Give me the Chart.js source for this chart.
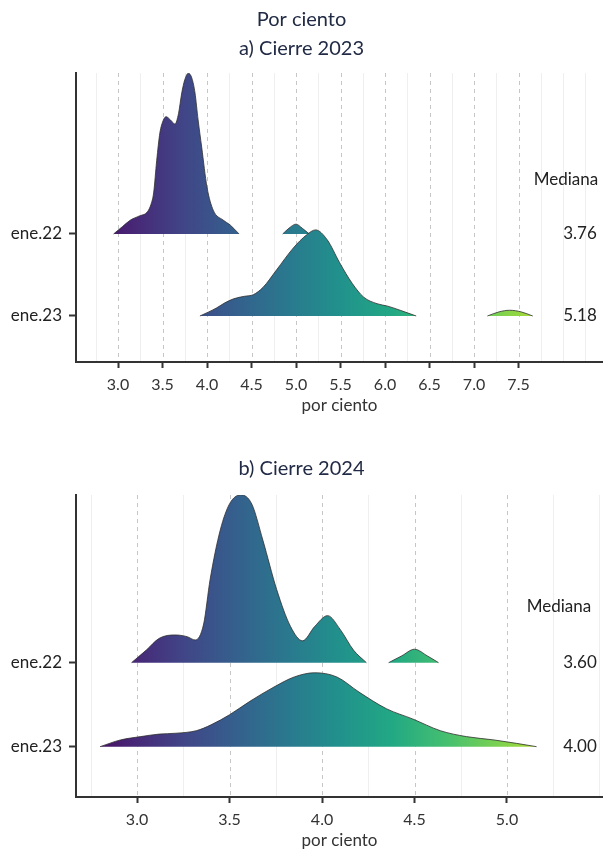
<!DOCTYPE html>
<html>
<head>
<meta charset="utf-8">
<script src="https://cdn.jsdelivr.net/npm/chart.js@4.4.0/dist/chart.umd.min.js"></script>
<style>
  html, body { margin: 0; padding: 0; background: #fff; }
  body { width: 603px; height: 850px; overflow: hidden; position: relative; }
  .panel { position: absolute; left: 0; width: 603px; }
  #top { top: 0; }
  #bottom { top: 420px; }
</style>
</head>
<body>
<div class="panel" id="top"><canvas id="chart2023" width="603" height="416"></canvas></div>
<div class="panel" id="bottom"><canvas id="chart2024" width="603" height="431"></canvas></div>
<script>
// categories (top to bottom)
const categories = ['ene.22', 'ene.23'];

// x tick labels
const ticks2023 = [3.0, 3.5, 4.0, 4.5, 5.0, 5.5, 6.0, 6.5, 7.0, 7.5];
const ticks2024 = [3.0, 3.5, 4.0, 4.5, 5.0];

// medians shown at the right
const mediana2023 = [3.76, 5.18];
const mediana2024 = [3.60, 4.00];

// a) Cierre 2023 - ridge heights (in category units)
const c23Ene22X = [2.95, 3.05, 3.14, 3.24, 3.33, 3.37, 3.40, 3.435, 3.47, 3.51, 3.54, 3.59, 3.64, 3.68, 3.716, 3.75, 3.79, 3.83, 3.865, 3.90, 3.94, 4.00, 4.07, 4.18, 4.26, 4.36];
const c23Ene22H = [0, 0.09, 0.17, 0.22, 0.27, 0.36, 0.50, 0.90, 1.23, 1.39, 1.43, 1.39, 1.34, 1.47, 1.72, 1.88, 1.96, 1.90, 1.72, 1.39, 1.06, 0.57, 0.29, 0.17, 0.11, 0];
const c23Ene22bX = [4.85, 4.92, 5.00, 5.07, 5.15];
const c23Ene22bH = [0, 0.07, 0.12, 0.07, 0];
const c23Ene23X = [3.92, 4.02, 4.11, 4.20, 4.30, 4.42, 4.52, 4.63, 4.78, 4.97, 5.12, 5.22, 5.35, 5.49, 5.63, 5.76, 5.91, 6.03, 6.17, 6.35];
const c23Ene23H = [0, 0.05, 0.10, 0.16, 0.21, 0.24, 0.26, 0.35, 0.56, 0.83, 0.99, 1.05, 0.93, 0.65, 0.40, 0.23, 0.15, 0.12, 0.07, 0];
const c23Ene23bX = [7.15, 7.28, 7.40, 7.53, 7.66];
const c23Ene23bH = [0, 0.05, 0.07, 0.05, 0];

// b) Cierre 2024
const c24Ene22X = [2.97, 3.05, 3.12, 3.205, 3.27, 3.315, 3.36, 3.395, 3.45, 3.50, 3.56, 3.62, 3.68, 3.755, 3.83, 3.895, 3.96, 4.03, 4.10, 4.17, 4.24];
const c24Ene22H = [0, 0.15, 0.29, 0.33, 0.31, 0.27, 0.46, 0.99, 1.58, 1.89, 2.00, 1.89, 1.46, 0.87, 0.43, 0.26, 0.43, 0.56, 0.39, 0.15, 0];
const c24Ene22bX = [4.36, 4.43, 4.50, 4.57, 4.63];
const c24Ene22bH = [0, 0.08, 0.16, 0.08, 0];
const c24Ene23X = [2.80, 2.91, 3.02, 3.12, 3.21, 3.32, 3.40, 3.50, 3.61, 3.74, 3.85, 3.96, 4.08, 4.20, 4.35, 4.49, 4.64, 4.78, 4.93, 5.05, 5.16];
const c24Ene23H = [0, 0.08, 0.12, 0.15, 0.16, 0.19, 0.26, 0.38, 0.54, 0.71, 0.83, 0.88, 0.83, 0.65, 0.45, 0.33, 0.19, 0.12, 0.08, 0.04, 0];

const viridis = ['#440154', '#482475', '#414487', '#355f8d', '#2a788e', '#21918c', '#22a884', '#44bf70', '#7ad151', '#bddf26', '#fde725'];
const navy = '#222b45';

Chart.defaults.font.family = 'Lato, "Open Sans", sans-serif';

// ene.22 -> 2, ene.23 -> 1
function level(cat) {
  return categories.length - categories.indexOf(cat);
}

// gradient over the whole x axis
function viridisFill(ctx) {
  const chart = ctx.chart;
  const area = chart.chartArea;
  if (!area) return viridis[5];
  const g = chart.ctx.createLinearGradient(area.left, 0, area.right, 0);
  viridis.forEach((c, i) => g.addColorStop(i / (viridis.length - 1), c));
  return g;
}

function ridge(cat, xs, hs) {
  const base = level(cat);
  return {
    label: cat,
    data: xs.map((x, i) => ({ x: x, y: base + hs[i] })),
    fill: { value: base },
    backgroundColor: viridisFill,
    borderColor: '#2e2e2e',
    borderWidth: 0.8,
    pointRadius: 0,
    cubicInterpolationMode: 'monotone',
    order: base // lower ridge drawn on top
  };
}

function isMajor(majors, v) {
  return majors.some(m => Math.abs(m - v) < 1e-6);
}

// dashed majors + light minors every 0.25
const gridPlugin = {
  id: 'ridgeGrid',
  beforeDatasetsDraw(chart, args, opts) {
    const { ctx, chartArea: a, scales: { x } } = chart;
    ctx.save();
    ctx.lineWidth = 1;
    for (let v = Math.ceil(x.min * 4) / 4; v <= x.max; v += 0.25) {
      const px = Math.round(x.getPixelForValue(v)) + 0.5;
      const major = isMajor(opts.majors, v);
      ctx.strokeStyle = major ? '#c6c6c6' : '#efefef';
      ctx.setLineDash(major ? [4, 4] : []);
      ctx.beginPath();
      ctx.moveTo(px, a.top);
      ctx.lineTo(px, a.bottom - 1);
      ctx.stroke();
    }
    ctx.restore();
  }
};

const medianPlugin = {
  id: 'medianas',
  afterDatasetsDraw(chart, args, opts) {
    const { ctx, chartArea: a, scales: { y } } = chart;
    ctx.save();
    ctx.font = '17px Lato';
    ctx.fillStyle = '#222';
    ctx.textAlign = 'center';
    ctx.textBaseline = 'middle';
    ctx.fillText('Mediana', a.right - opts.headOffset, y.getPixelForValue(2.67));
    opts.values.forEach((m, i) => {
      ctx.fillText(m.toFixed(2), a.right - 23, y.getPixelForValue(level(categories[i])));
    });
    ctx.restore();
  }
};

function makeChart(id, cfg) {
  return new Chart(document.getElementById(id), {
    type: 'line',
    data: { datasets: cfg.datasets },
    plugins: [gridPlugin, medianPlugin],
    options: {
      responsive: false,
      animation: false,
      events: [],
      layout: { padding: 0 },
      scales: {
        x: {
          type: 'linear',
          min: cfg.xMin,
          max: cfg.xMax,
          afterBuildTicks: s => { s.ticks = cfg.majors.map(v => ({ value: v })); },
          afterFit: s => { s.height = 54; },
          ticks: {
            autoSkip: false,
            maxRotation: 0,
            padding: 7,
            color: '#333',
            font: { size: 16 },
            callback: v => Number(v).toFixed(1)
          },
          grid: {
            drawOnChartArea: false,
            tickLength: 6,
            tickWidth: 2,
            tickColor: c => (c.tick && isMajor(cfg.majors, c.tick.value)) ? '#333' : 'rgba(0,0,0,0)'
          },
          border: { color: '#333', width: 2 },
          title: { display: true, text: 'por ciento', color: '#333', font: { size: 17 }, padding: 0 }
        },
        y: {
          type: 'linear',
          min: cfg.yMin,
          max: cfg.yMax,
          afterBuildTicks: s => { s.ticks = categories.map(c => ({ value: level(c) })); },
          afterFit: s => { s.width = 76; },
          ticks: {
            autoSkip: false,
            padding: 7,
            color: '#222',
            font: { size: 17 },
            callback: v => categories[categories.length - v]
          },
          grid: { drawOnChartArea: false, tickLength: 7, tickColor: '#333', tickWidth: 2 },
          border: { color: '#333', width: 2 }
        }
      },
      plugins: {
        legend: { display: false },
        tooltip: { enabled: false },
        title: cfg.title,
        subtitle: cfg.subtitle,
        ridgeGrid: { majors: cfg.majors },
        medianas: { values: cfg.medianas, headOffset: cfg.headOffset }
      }
    }
  });
}

makeChart('chart2023', {
  datasets: [
    ridge('ene.22', c23Ene22X, c23Ene22H),
    ridge('ene.22', c23Ene22bX, c23Ene22bH),
    ridge('ene.23', c23Ene23X, c23Ene23H),
    ridge('ene.23', c23Ene23bX, c23Ene23bH)
  ],
  xMin: 2.528, xMax: 8.449,
  yMin: 0.439, yMax: 3.963,
  majors: ticks2023,
  medianas: mediana2023,
  headOffset: 37,
  title: { display: true, text: 'Por ciento', color: navy, font: { size: 20, weight: 'normal' }, padding: { top: 7.5, bottom: 5 } },
  subtitle: { display: true, text: 'a) Cierre 2023', color: navy, font: { size: 20, weight: 'normal' }, padding: { top: 0, bottom: 12.5 } }
});

makeChart('chart2024', {
  datasets: [
    ridge('ene.22', c24Ene22X, c24Ene22H),
    ridge('ene.22', c24Ene22bX, c24Ene22bH),
    ridge('ene.23', c24Ene23X, c24Ene23H)
  ],
  xMin: 2.670, xMax: 5.519,
  yMin: 0.401, yMax: 3.996,
  majors: ticks2024,
  medianas: mediana2024,
  headOffset: 44,
  title: { display: true, text: 'b) Cierre 2024', color: navy, font: { size: 20, weight: 'normal' }, padding: { top: 37, bottom: 14 } },
  subtitle: { display: false }
});
</script>
</body>
</html>
